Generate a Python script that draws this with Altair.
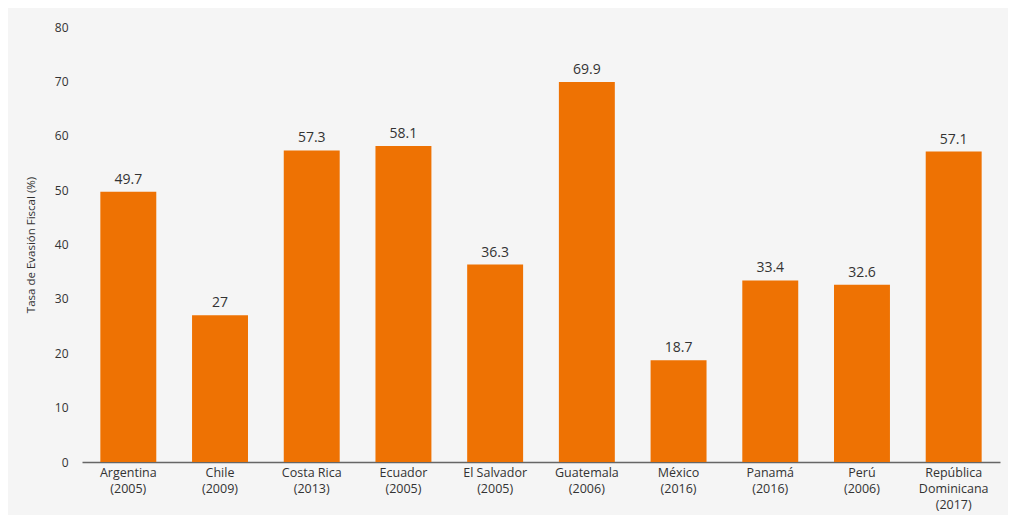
import altair as alt
import pandas as pd

countries = ["Argentina\n(2005)", "Chile\n(2009)", "Costa Rica\n(2013)", "Ecuador\n(2005)",
             "El Salvador\n(2005)", "Guatemala\n(2006)", "México\n(2016)", "Panamá\n(2016)",
             "Perú\n(2006)", "República\nDominicana\n(2017)"]
values = [49.7, 27, 57.3, 58.1, 36.3, 69.9, 18.7, 33.4, 32.6, 57.1]

df = pd.DataFrame({"pais": countries, "tasa": values})

FONT = "Open Sans"
ORANGE = "#EE7203"

x = alt.X("pais:N", sort=countries, title=None,
          scale=alt.Scale(paddingInner=0.39, paddingOuter=0.2),
          axis=alt.Axis(labelAngle=0, labelExpr="split(datum.label, '\\n')",
                        ticks=False, domainColor="#666666", domainWidth=1.5,
                        labelFont=FONT, labelFontSize=12.5, labelColor="#333333",
                        labelPadding=4, labelLineHeight=16))
y = alt.Y("tasa:Q", title="Tasa de Evasión Fiscal (%)",
          scale=alt.Scale(domain=[0, 80]),
          axis=alt.Axis(values=list(range(0, 90, 10)), domain=False, ticks=False, grid=False,
                        labelFont=FONT, labelFontSize=12, labelColor="#333333",
                        labelPadding=14, titleFont=FONT, titleFontSize=11.5,
                        titleFontWeight="normal", titleColor="#333333", titlePadding=18))

bars = alt.Chart(df).mark_bar(color=ORANGE).encode(x=x, y=y)
labels = alt.Chart(df).mark_text(dy=-12, font=FONT, fontSize=14, color="#333333").encode(
    x=alt.X("pais:N", sort=countries), y="tasa:Q", text=alt.Text("tasa:Q"))

chart = (bars + labels).properties(
    width=918, height=435,
    padding={"left": 74, "top": 19, "right": 8, "bottom": 53},
    autosize=alt.AutoSizeParams(type="none"),
    background="#f5f5f5",
).configure_view(stroke=None)

chart.save("out.html", embed_options={"renderer": "svg", "actions": False})
